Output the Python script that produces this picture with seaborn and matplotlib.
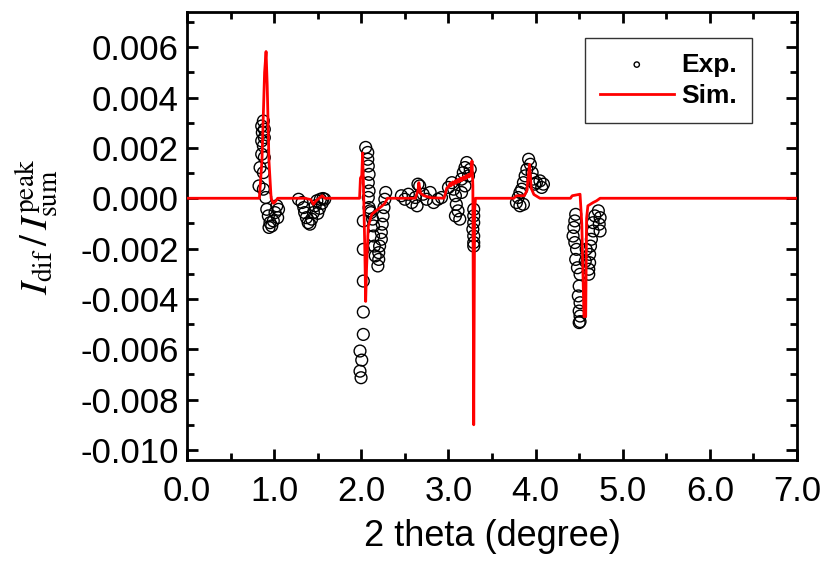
import seaborn as sns
import matplotlib.pyplot as plt
from matplotlib.ticker import MultipleLocator, FormatStrFormatter

# experimental points (2 theta, Idif/Isum)
exp_x = [0.876, 0.857, 0.887, 0.864, 0.887, 0.857, 0.876, 0.857, 0.887, 0.838, 0.876, 0.826, 0.876, 0.903,
         0.915, 0.933, 0.952, 0.941, 0.972, 1.01, 1.03, 1.05, 1.04, 0.99,
         1.28, 1.32, 1.34, 1.35, 1.37, 1.39, 1.41, 1.43, 1.45, 1.47, 1.49, 1.53, 1.56, 1.58, 1.50, 1.52, 1.55,
         2.05, 2.074, 2.074, 2.08, 2.089, 2.08, 2.089, 2.08, 2.089, 2.10, 2.023, 2.023, 2.023, 2.023, 2.023,
         1.985, 2.005, 1.985, 1.997,
         2.28, 2.27, 2.26, 2.25, 2.24, 2.23, 2.23, 2.21, 2.20, 2.20, 2.19, 2.14, 2.14, 2.15, 2.16, 2.13, 2.11,
         2.46, 2.50, 2.54, 2.58, 2.62, 2.64, 2.65, 2.67, 2.71, 2.75, 2.79, 2.83, 2.88, 2.92,
         3.00, 3.04, 3.06, 3.08, 3.09, 3.11, 3.13, 3.08, 3.15, 3.15, 3.17, 3.19, 3.21, 3.19, 3.23, 3.25,
         3.29, 3.29, 3.29, 3.28, 3.29, 3.29, 3.29,
         3.78, 3.80, 3.82, 3.84, 3.86, 3.88, 3.90, 3.92, 3.94, 3.96, 3.97, 3.99, 4.01, 4.05, 4.07, 4.09, 3.82, 3.86,
         4.46, 4.45, 4.44, 4.43, 4.45, 4.47, 4.46, 4.48, 4.51, 4.50, 4.49, 4.51, 4.50, 4.51, 4.50, 4.51,
         4.72, 4.74, 4.73, 4.74, 4.68, 4.66, 4.66, 4.64, 4.63, 4.62, 4.62, 4.61, 4.61, 4.58, 4.57]
exp_y = [0.00307, 0.00287, 0.00274, 0.00261, 0.00241, 0.00228, 0.00208, 0.00175, 0.00162, 0.00122, 0.00102,
         0.00049, 0.00036, 0.00003,
         -0.00044, -0.0007, -0.00097, -0.00116, -0.0011, -0.00057, -0.0003, -0.00044, -0.00077, -0.0009,
         -0.00004, -0.00017, -0.00037, -0.00057, -0.00077, -0.00097, -0.00103, -0.00083, -0.00057, -0.0003,
         -0.0001, -0.00004, -0.00001, -0.00004, -0.0006, -0.0004, -0.0002,
         0.00202, 0.00182, 0.00155, 0.00128, 0.00095, 0.00062, 0.00029, 0.00003, -0.00037, -0.0005,
         -0.0009, -0.00203, -0.00329, -0.00452, -0.00541, -0.00607, -0.00643, -0.00687, -0.00713,
         0.00023, -0.00004, -0.00037, -0.0007, -0.00103, -0.00136, -0.00163, -0.0019, -0.00216, -0.00243,
         -0.00269, -0.0011, -0.0015, -0.0019, -0.00229, -0.00083, -0.00057,
         0.0001, -0.00004, 0.00016, -0.00017, 0.00003, -0.0003, 0.00056, 0.00049, 0.00016, -0.00004,
         0.00023, -0.00017, -0.00004, 0.00003,
         0.00043, 0.00062, 0.00036, 0.0001, -0.00024, -0.0005, -0.00083, -0.0007, 0.00023, 0.00076,
         0.00102, 0.00122, 0.00142, 0.00049, 0.00089, 0.00115,
         -0.00044, -0.0007, -0.00097, -0.00123, -0.0015, -0.00176, -0.0019,
         -0.00017, 0.00003, 0.00023, 0.00036, 0.00062, 0.00089, 0.00115, 0.00155, 0.00135, 0.00102,
         0.00076, 0.00056, 0.00062, 0.00069, 0.00043, 0.00056, -0.0003, -0.00024,
         -0.00064, -0.0009, -0.00116, -0.0015, -0.00176, -0.00203, -0.00243, -0.00276, -0.00302, -0.00349,
         -0.00388, -0.00415, -0.00448, -0.00468, -0.00494, -0.0049,
         -0.0005, -0.00077, -0.00103, -0.0013, -0.0007, -0.00097, -0.0013, -0.00163, -0.0019, -0.00223,
         -0.00256, -0.00282, -0.00302, -0.00203, -0.0025]

# simulated curve
sim_x = [0.0, 0.83, 0.86, 0.89, 0.907, 0.92, 0.94, 0.965, 0.99, 1.01, 1.04,
         1.35, 1.42, 1.45, 1.48, 1.55, 1.58,
         1.98, 1.99, 2.005, 2.015, 2.025, 2.04, 2.05, 2.06, 2.08, 2.12, 2.19, 2.24, 2.27, 2.30,
         2.62, 2.65, 2.66, 2.68, 2.72, 2.80, 2.95, 2.98, 3.00,
         3.02, 3.03, 3.05, 3.06, 3.08, 3.09, 3.11, 3.12, 3.14, 3.15, 3.17, 3.18, 3.20, 3.21, 3.23, 3.24,
         3.26, 3.27, 3.28, 3.29, 3.30, 3.31,
         3.75, 3.78, 3.87, 3.90, 3.93, 3.95, 3.98, 4.05,
         4.40, 4.42, 4.51, 4.53, 4.555, 4.575, 4.585, 4.60, 4.66, 4.70, 4.74, 7.0]
sim_y = [0.0, 0.0, 0.0015, 0.005, 0.00583, 0.0045, 0.0015, 0.0, -0.0002, -0.00015, 0.0,
         0.0, -0.00005, -0.00024, -0.0001, 0.0001, 0.0,
         0.0, 0.0008, 0.0009, 0.0018, 0.0005, -0.002, -0.0041, -0.0028, -0.0011, -0.00064, -0.00044,
         -0.0003, -0.0002, 0.0,
         0.0, 0.0003, 0.00062, 0.0002, 0.0001, 0.00002, 0.0, 0.0004, 0.00045,
         0.0006, 0.0005, 0.00065, 0.00055, 0.0007, 0.0006, 0.00075, 0.00065, 0.0008, 0.0007, 0.00085,
         0.00075, 0.0009, 0.0008, 0.00095, 0.00085,
         0.001, 0.00148, 0.0005, -0.009, -0.0005, 0.0,
         0.0, 0.0001, 0.0001, 0.0003, 0.00135, 0.0004, 0.00015, 0.0,
         0.0, 0.0001, 0.00016, -0.001, -0.0047, -0.0047, -0.0008, -0.0003, -0.00017, -0.0001, 0.0, 0.0]

plt.rcParams['font.family'] = ['Liberation Sans', 'DejaVu Sans']
plt.rcParams['mathtext.fontset'] = 'stix'

fig = plt.figure(figsize=(8.21, 5.61), dpi=100)
ax = fig.add_axes([0.2278, 0.18, 0.743, 0.7986])

sns.scatterplot(x=exp_x, y=exp_y, ax=ax, marker='o', s=72, facecolor='none',
                edgecolor='black', linewidth=1, label='Exp.', zorder=2)
sns.lineplot(x=sim_x, y=sim_y, ax=ax, color='red', lw=2, sort=False, estimator=None,
             label='Sim.', zorder=3)

ax.set_xlim(0, 7)
ax.set_ylim(-0.0104, 0.0074)
ax.xaxis.set_major_locator(MultipleLocator(1))
ax.xaxis.set_minor_locator(MultipleLocator(0.5))
ax.yaxis.set_major_locator(MultipleLocator(0.002))
ax.yaxis.set_minor_locator(MultipleLocator(0.001))
ax.xaxis.set_major_formatter(FormatStrFormatter('%.1f'))
ax.yaxis.set_major_formatter(FormatStrFormatter('%.3f'))
ax.tick_params(which='both', direction='in', top=True, right=True, width=2, labelsize=25)
ax.tick_params(which='major', length=8)
ax.tick_params(which='minor', length=5)
ax.tick_params(axis='x', which='major', pad=11)
ax.tick_params(axis='y', which='major', pad=6)
for sp in ax.spines.values():
    sp.set_linewidth(2)

ax.set_xlabel('2 theta (degree)', fontsize=26, labelpad=8)
ax.set_ylabel(r'$I_{\mathrm{dif}}\,/\,I_{\mathrm{sum}}^{\mathrm{peak}}$', fontsize=28)
ax.yaxis.set_label_coords(-0.206, 0.52)

leg = ax.legend(loc='upper right', bbox_to_anchor=(0.926, 0.942), frameon=True, fancybox=False,
                edgecolor='black', prop={'weight': 'bold', 'size': 19}, markerscale=0.45,
                handlelength=2.8, handletextpad=0.3, borderpad=0.55, labelspacing=0.3,
                borderaxespad=0)
leg.get_frame().set_linewidth(1)

fig.savefig('out.png', dpi=100)
